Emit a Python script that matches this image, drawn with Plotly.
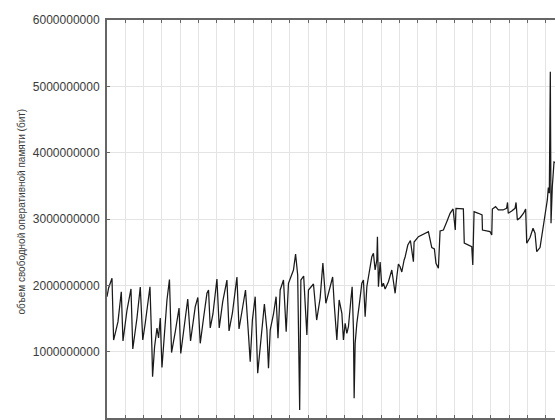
import plotly.graph_objects as go

# x: days (one vertical gridline per day), y: free RAM in bits
days = [0.000, 0.088, 0.273, 0.361, 0.454, 0.601, 0.782, 0.875, 1.094, 1.312,
        1.411, 1.640, 1.821, 1.957, 2.094, 2.351, 2.460, 2.493, 2.603, 2.734,
        2.821, 2.914, 3.007, 3.133, 3.281, 3.417, 3.532, 3.734, 3.942, 4.035,
        4.155, 4.281, 4.418, 4.571, 4.702, 4.828, 4.970, 5.101, 5.282, 5.468,
        5.555, 5.648, 5.796, 5.921, 6.014, 6.140, 6.331, 6.561, 6.676, 6.862,
        7.108, 7.223, 7.409, 7.578, 7.742, 7.835, 7.955, 8.108, 8.245, 8.382,
        8.611, 8.748, 8.835, 8.929, 9.109, 9.251, 9.355, 9.475, 9.656, 9.803,
        9.929, 10.202, 10.317, 10.432, 10.541, 10.607, 10.760, 10.935, 11.022, 11.296,
        11.471, 11.662, 11.810, 11.974, 12.154, 12.346, 12.428, 12.482, 12.575, 12.701,
        12.849, 12.936, 13.029, 13.122, 13.209, 13.341, 13.412, 13.483, 13.521, 13.576,
        13.669, 13.811, 13.942, 14.030, 14.123, 14.216, 14.358, 14.489, 14.577, 14.669,
        14.762, 14.795, 14.850, 14.943, 15.036, 15.123, 15.216, 15.397, 15.582, 15.670,
        15.763, 15.856, 15.943, 16.036, 16.129, 16.255, 16.310, 16.457, 16.599, 16.764,
        16.801, 17.037, 17.223, 17.403, 17.584, 17.769, 17.911, 17.999, 18.130, 18.223,
        18.404, 18.590, 18.770, 18.934, 19.054, 19.093, 19.317, 19.497, 19.546, 19.771,
        19.956, 20.011, 20.082, 20.317, 20.520, 20.541, 20.777, 20.957, 21.050, 21.083,
        21.258, 21.411, 21.668, 21.859, 21.914, 21.952, 22.143, 22.324, 22.379, 22.450,
        22.614, 22.800, 22.904, 22.964, 23.144, 23.308, 23.418, 23.510, 23.691, 23.800,
        23.964, 24.090, 24.145, 24.199, 24.254, 24.292, 24.363, 24.456, 24.565]

free_mem = [1.829e9, 1.960e9, 2.106e9, 1.176e9, 1.281e9, 1.452e9, 1.904e9, 1.161e9, 1.628e9, 1.945e9,
            1.040e9, 1.508e9, 1.975e9, 1.176e9, 1.432e9, 1.979e9, 1.025e9, 0.623e9, 1.075e9, 1.357e9,
            1.206e9, 1.508e9, 0.761e9, 1.176e9, 1.779e9, 2.088e9, 0.987e9, 1.297e9, 1.658e9, 0.972e9,
            1.226e9, 1.477e9, 1.794e9, 1.161e9, 1.428e9, 1.678e9, 1.817e9, 1.126e9, 1.508e9, 1.880e9,
            1.930e9, 1.357e9, 1.568e9, 1.880e9, 2.096e9, 1.357e9, 1.753e9, 2.080e9, 1.312e9, 1.583e9,
            2.126e9, 1.342e9, 1.628e9, 1.930e9, 1.251e9, 0.849e9, 1.477e9, 1.829e9, 0.674e9, 1.075e9,
            1.719e9, 1.327e9, 0.749e9, 1.327e9, 1.568e9, 1.829e9, 1.202e9, 1.930e9, 2.080e9, 1.301e9,
            2.031e9, 2.231e9, 2.472e9, 2.156e9, 0.121e9, 2.080e9, 2.141e9, 1.251e9, 1.930e9, 2.020e9,
            1.477e9, 1.809e9, 2.337e9, 1.729e9, 1.930e9, 2.126e9, 1.729e9, 1.477e9, 1.176e9, 1.779e9,
            1.578e9, 1.176e9, 1.428e9, 1.277e9, 1.376e9, 1.779e9, 1.979e9, 1.327e9, 0.297e9, 1.126e9,
            1.428e9, 1.729e9, 2.031e9, 2.080e9, 1.527e9, 1.979e9, 2.231e9, 2.432e9, 2.483e9, 2.231e9,
            2.382e9, 2.733e9, 1.979e9, 2.352e9, 1.979e9, 2.031e9, 1.945e9, 2.055e9, 2.231e9, 2.031e9,
            1.880e9, 2.130e9, 2.322e9, 2.281e9, 2.201e9, 2.382e9, 2.427e9, 2.608e9, 2.676e9, 2.356e9,
            2.653e9, 2.733e9, 2.759e9, 2.774e9, 2.809e9, 2.570e9, 2.548e9, 2.332e9, 2.257e9, 2.819e9,
            2.834e9, 2.959e9, 3.086e9, 3.151e9, 2.834e9, 3.161e9, 3.161e9, 3.154e9, 2.638e9, 2.608e9,
            2.583e9, 2.307e9, 3.110e9, 3.086e9, 3.060e9, 2.834e9, 2.819e9, 2.809e9, 2.759e9, 3.151e9,
            3.186e9, 3.136e9, 3.136e9, 3.161e9, 3.249e9, 3.086e9, 3.121e9, 3.161e9, 3.249e9, 2.985e9,
            3.023e9, 3.091e9, 3.151e9, 2.634e9, 2.721e9, 2.860e9, 2.785e9, 2.507e9, 2.570e9, 2.789e9,
            3.060e9, 3.287e9, 3.475e9, 3.388e9, 5.221e9, 2.935e9, 3.487e9, 3.860e9, 3.845e9]

y_ticks = [0, 1000000000, 2000000000, 3000000000, 4000000000, 5000000000, 6000000000]
y_title = "объем свободной оперативной памяти (бит)"

fig = go.Figure()
fig.add_trace(go.Scatter(x=days, y=free_mem, mode="lines",
                         line=dict(color="#1a1a1a", width=1.25), hoverinfo="skip"))

fig.update_layout(
    width=555, height=420,
    margin=dict(l=107, r=0, t=20, b=2),
    paper_bgcolor="white", plot_bgcolor="white",
    showlegend=False,
    font=dict(family="Liberation Sans, Arial, sans-serif", size=12, color="#3a3a3a"),
)
fig.update_xaxes(range=[0, 24.51], dtick=1, tick0=0, showgrid=True,
                 gridcolor="#e4e4e4", gridwidth=1.3, zeroline=False,
                 showline=True, linecolor="#666666", linewidth=2, mirror="ticks",
                 ticks="inside", ticklen=3, tickcolor="#666666", showticklabels=False,
                 automargin=False)
fig.update_yaxes(range=[0, 6000000000], tickvals=y_ticks, tickformat="d",
                 showgrid=True, gridcolor="#e4e4e4", gridwidth=1.3, zeroline=False,
                 showline=True, linecolor="#666666", linewidth=2, mirror=True,
                 ticks="inside", ticklen=3, tickcolor="#666666", ticklabelstandoff=3,
                 tickfont=dict(size=12, color="#3a3a3a"), automargin=False)
fig.add_annotation(text=y_title, xref="paper", yref="paper",
                   x=(21 - 107) / 448, y=(418 - 211.5) / 398, textangle=-90, showarrow=False,
                   font=dict(size=10, color="#3a3a3a"), xanchor="center", yanchor="middle")

fig.write_html("out.html", config={"displayModeBar": False},
               post_script="document.body.style.margin='0';")
